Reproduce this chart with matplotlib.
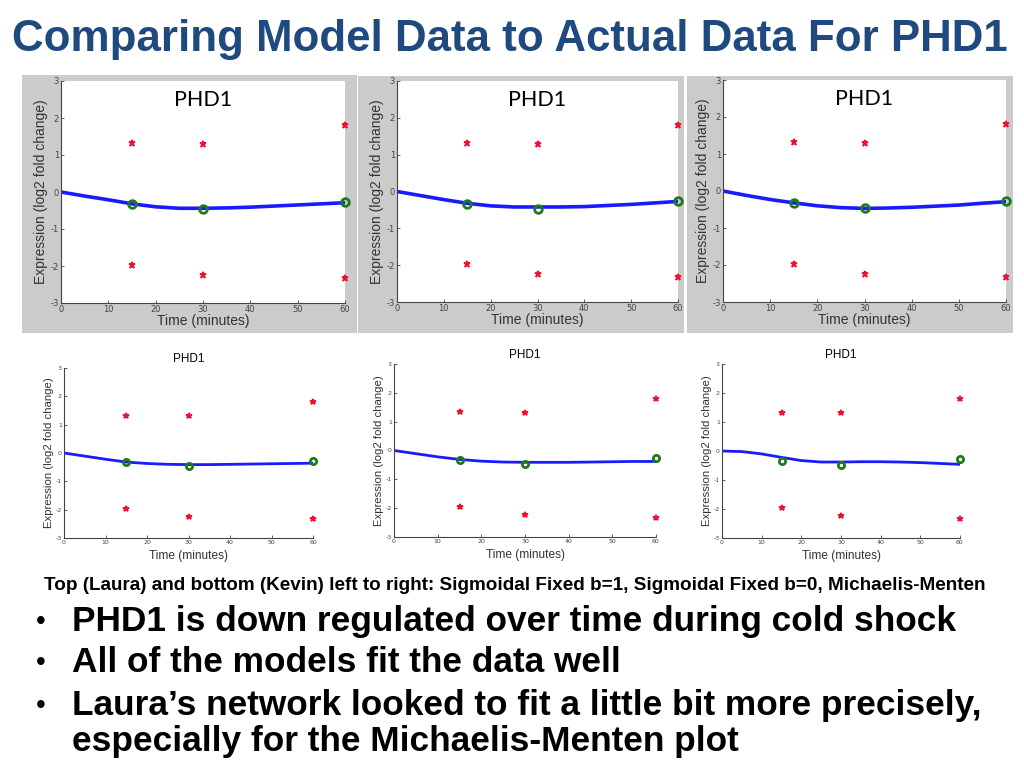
import numpy as np
import matplotlib as mpl
mpl.use('agg')
import matplotlib.pyplot as plt
from matplotlib.patches import Rectangle
from matplotlib import font_manager

mpl.rcParams['axes.unicode_minus'] = False

# measured data (same for every panel)
t_data = [15, 30, 60]
rep_hi = [1.32, 1.30, 1.80]
rep_lo = [-1.97, -2.25, -2.33]
mean_expr = [-0.33, -0.47, -0.27]

# model curves
t_model = [0, 5, 10, 15, 20, 25, 30, 35, 40, 45, 50, 55, 60]
laura_sig_b1 = [0, -0.11, -0.21, -0.32, -0.40, -0.44, -0.44, -0.43, -0.41, -0.38, -0.35, -0.32, -0.29]
laura_sig_b0 = [0, -0.11, -0.22, -0.32, -0.39, -0.42, -0.42, -0.42, -0.41, -0.38, -0.35, -0.31, -0.27]
laura_mm = [0, -0.12, -0.23, -0.32, -0.40, -0.45, -0.47, -0.46, -0.44, -0.41, -0.38, -0.33, -0.29]
kevin_sig_b1 = [0, -0.11, -0.22, -0.32, -0.37, -0.40, -0.41, -0.41, -0.40, -0.39, -0.38, -0.37, -0.36]
kevin_sig_b0 = [0, -0.11, -0.22, -0.31, -0.37, -0.40, -0.41, -0.41, -0.41, -0.40, -0.39, -0.38, -0.38]
kevin_mm = [0, -0.02, -0.10, -0.22, -0.33, -0.38, -0.38, -0.37, -0.37, -0.38, -0.40, -0.43, -0.46]

x_ticks = [0, 10, 20, 30, 40, 50, 60]
y_ticks = [-3, -2, -1, 0, 1, 2, 3]
gene = 'PHD1'
title = 'Comparing Model Data to Actual Data For PHD1'
caption = ('Top (Laura) and bottom (Kevin) left to right: Sigmoidal Fixed b=1, '
           'Sigmoidal Fixed b=0, Michaelis-Menten')
bullets = ['PHD1 is down regulated over time during cold shock',
           'All of the models fit the data well',
           'Laura\u2019s network looked to fit a little bit more precisely,']
bullet_cont = 'especially for the Michaelis-Menten plot'

names = {f.name for f in font_manager.fontManager.ttflist}
narrow = ['Liberation Sans Narrow', 'Liberation Sans', 'DejaVu Sans']
narrow = [n for n in narrow if n in names] or ['DejaVu Sans']
slide_font = ['Lato', 'Open Sans', 'DejaVu Sans']
plot_font = ['Liberation Sans', 'DejaVu Sans']

W, H = 1024, 768
fig = plt.figure(figsize=(W / 100, H / 100), dpi=100)


def box(x0, y0, x1, y1):
    # pixel box (top-left origin) -> figure fraction
    return [x0 / W, 1 - y1 / H, (x1 - x0) / W, (y1 - y0) / H]


def panel(rect, model, big):
    ax = fig.add_axes(box(*rect))
    ax.set_facecolor('white')
    ax.plot(t_model, model, color='#1a1aff', lw=2.6 if big else 2.0, zorder=2)
    for reps in (rep_hi, rep_lo):
        ax.plot(t_data, reps, ls='none', marker='*', ms=5 if big else 4,
                color='#ee1133', mew=1.2, zorder=3, clip_on=False)
    ax.plot(t_data, mean_expr, ls='none', marker='o', ms=5.5 if big else 4.5,
            mfc='none', mec='#1f7a1f', mew=2.0, zorder=4, clip_on=False)
    ax.set_xlim(0, 60)
    ax.set_ylim(-3, 3)
    ax.set_xticks(x_ticks)
    ax.set_yticks(y_ticks)
    for s in ['top', 'right']:
        ax.spines[s].set_visible(False)
    for s in ['left', 'bottom']:
        ax.spines[s].set_color('#444444')
        ax.spines[s].set_linewidth(0.8)
    ax.tick_params(direction='in', length=2, width=0.6, colors='#444444',
                   labelsize=6 if big else 4.5, pad=1.5)
    ax.set_xlabel('Time (minutes)', fontsize=10 if big else 8.6,
                  family=plot_font, color='#333333', labelpad=0 if big else 3.5)
    ax.set_ylabel('Expression (log2 fold change)', fontsize=10 if big else 8.2,
                  family=plot_font, color='#333333', labelpad=1.5 if big else 1)
    if big:
        ax.text(0.5, 0.915, gene, transform=ax.transAxes, ha='center',
                va='center', fontsize=15.5, family=slide_font, color='black')
    else:
        ax.set_title(gene, fontsize=8.5, family=plot_font, pad=4)
    return ax


# gray frames of the top row
for gx in [(22, 75, 357, 333), (358, 76, 684, 333), (687, 76, 1013, 333)]:
    fig.add_artist(Rectangle((gx[0] / W, 1 - gx[3] / H),
                             (gx[2] - gx[0]) / W, (gx[3] - gx[1]) / H,
                             transform=fig.transFigure, facecolor='#cbcbcb',
                             edgecolor='none', zorder=0))

panel((61, 81, 345, 303), laura_sig_b1, True)
panel((397, 81, 678, 302), laura_sig_b0, True)
panel((723, 80, 1006, 302), laura_mm, True)
panel((64, 368, 313, 538), kevin_sig_b1, False)
panel((394, 364, 656, 537), kevin_sig_b0, False)
panel((722, 364, 960, 538), kevin_mm, False)

fig.text(12 / W, 1 - 40 / H, title, ha='left', va='center', fontsize=31.6,
         fontweight='bold', family=narrow, color='#1f4a80')
fig.text(515 / W, 1 - 586 / H, caption, ha='center', va='center', fontsize=13.6,
         fontweight='bold', family=narrow, color='black')

for y, line in zip([622, 663, 706], bullets):
    fig.text(36 / W, 1 - y / H, '\u2022', ha='left', va='center', fontsize=20,
             family=narrow, color='black')
    fig.text(72 / W, 1 - y / H, line, ha='left', va='center', fontsize=25.4,
             fontweight='bold', family=narrow, color='black')
fig.text(72 / W, 1 - 742 / H, bullet_cont, ha='left', va='center', fontsize=25.4,
         fontweight='bold', family=narrow, color='black')

fig.savefig('out.png', dpi=100)
